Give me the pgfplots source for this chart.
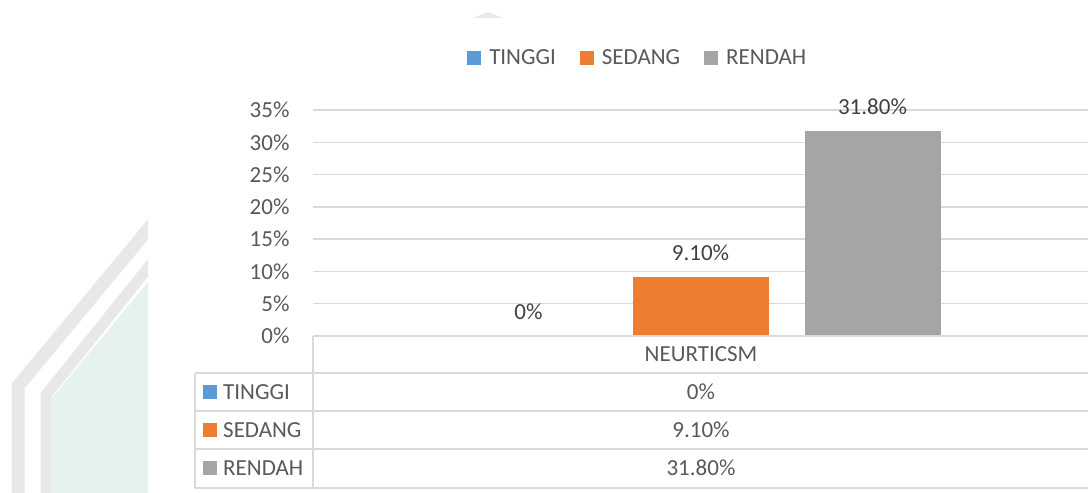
\documentclass[border=0pt]{standalone}
\usepackage{fontspec}
\setmainfont{Carlito}
\usepackage{pgfplots}
\pgfplotsset{compat=1.18}
\definecolor{cT}{HTML}{5B9BD5}
\definecolor{cS}{HTML}{ED7D31}
\definecolor{cR}{HTML}{A5A5A5}
\definecolor{txt}{HTML}{595959}
\definecolor{lbl}{HTML}{404040}
\definecolor{grd}{HTML}{D9D9D9}
\definecolor{wmg}{HTML}{E8E8E8}
\definecolor{wmgreen}{HTML}{E6F3EC}
\begin{document}
\begin{tikzpicture}[x=1pt,y=1pt,font=\fontsize{23}{27}\selectfont]
\useasboundingbox (0,0) rectangle (1088,493);
% faint background watermark
\begin{scope}
\clip (0,0) rectangle (148,493);
\fill[wmgreen] (52,0) -- (52,95) -- (148,211) -- (148,0) -- cycle;
\draw[wmg, line width=11pt] (46,-10) -- (46,98) -- (160,240);
\draw[wmg, line width=13pt] (18,-10) -- (18,107) -- (160,278);
\end{scope}
\fill[wmg] (473,475) -- (488,481) -- (503,475) -- cycle;

\begin{axis}[
  at={(313pt,157pt)}, anchor=south west,
  width=775pt, height=226pt, scale only axis,
  ybar=36pt, bar width=136pt,
  xmin=-0.5, xmax=0.5, ymin=0, ymax=35,
  xtick=\empty,
  ytick={0,5,...,35},
  yticklabels={0\%,5\%,10\%,15\%,20\%,25\%,30\%,35\%},
  yticklabel style={text=txt, xshift=-20pt},
  ymajorgrids, grid style={grd, line width=1.4pt},
  axis line style={draw=none},
  major tick length=0pt,
  nodes near coords, point meta=explicit symbolic,
  every node near coord/.append style={anchor=center, yshift=24pt, text=lbl},
  legend style={draw=none, at={(0.419,1.230)}, anchor=center, legend columns=3,
    text=txt, /tikz/every even column/.append style={column sep=22pt}},
  legend image code/.code={\fill[#1] (0pt,-7pt) rectangle (14pt,7pt); \path (20pt,0pt);},
  clip=false,
]
\addplot[fill=cT, draw=none] coordinates {(0,0) [0\%]};
\addplot[fill=cS, draw=none] coordinates {(0,9.1) [9.10\%]};
\addplot[fill=cR, draw=none] coordinates {(0,31.8) [31.80\%]};
\legend{TINGGI,SEDANG,RENDAH}
\end{axis}

% data table
\begin{scope}[grd, line width=1.4pt]
\draw (313,157) -- (1088,157);
\foreach \y in {120,82,44,5} \draw (195,\y) -- (1088,\y);
\draw (313,157) -- (313,5);
\draw (195,120) -- (195,5);
\end{scope}
\node[text=txt] at (701,139) {NEURTICSM};
\node[text=txt] at (701,101) {0\%};
\node[text=txt] at (701,63) {9.10\%};
\node[text=txt] at (701,25) {31.80\%};
\fill[cT] (203,94) rectangle (217,108);
\fill[cS] (203,56) rectangle (217,70);
\fill[cR] (203,18) rectangle (217,32);
\node[text=txt, anchor=west, inner sep=0pt] at (223,101) {TINGGI};
\node[text=txt, anchor=west, inner sep=0pt] at (223,63) {SEDANG};
\node[text=txt, anchor=west, inner sep=0pt] at (223,25) {RENDAH};
\end{tikzpicture}
\end{document}
